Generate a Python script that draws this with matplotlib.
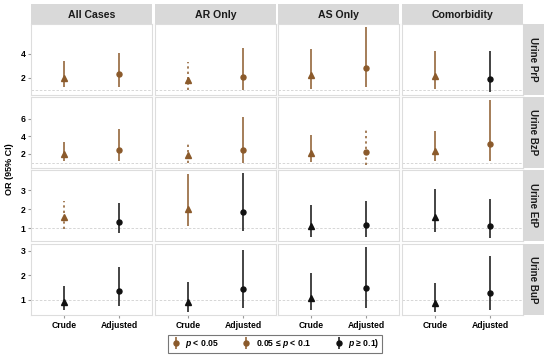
import matplotlib.pyplot as plt
from matplotlib.lines import Line2D

plt.rcParams['font.family'] = ['Liberation Sans', 'DejaVu Sans']
plt.rcParams['font.weight'] = 'bold'
plt.rcParams['mathtext.fontset'] = 'custom'
plt.rcParams['mathtext.it'] = 'Liberation Sans:italic:bold'

groups = ["All Cases", "AR Only", "AS Only", "Comorbidity"]
metabolites = ["Urine PrP", "Urine BzP", "Urine EtP", "Urine BuP"]
models = ["Crude", "Adjusted"]

# order in each list: [AC crude, AC adj, AR crude, AR adj, AS crude, AS adj, CM crude, CM adj]
prp_or = [2.0, 2.3, 1.8, 2.1, 2.25, 2.8, 2.17, 1.9]
prp_lo = [1.25, 1.28, 1.0, 0.97, 1.1, 1.28, 1.1, 0.86]
prp_hi = [3.4, 4.05, 3.3, 4.45, 4.4, 6.2, 4.25, 4.2]
prp_sig = [0, 0, 1, 0, 0, 0, 0, 2]

bzp_or = [2.0, 2.47, 1.83, 2.47, 2.1, 2.2, 2.36, 3.1]
bzp_lo = [1.15, 1.2, 0.97, 0.97, 1.04, 0.77, 1.15, 1.15]
bzp_hi = [3.4, 4.85, 3.4, 6.2, 4.1, 4.7, 4.6, 8.1]
bzp_sig = [0, 0, 1, 0, 0, 1, 0, 0]

etp_or = [1.57, 1.32, 2.04, 1.84, 1.14, 1.18, 1.62, 1.12]
etp_lo = [0.95, 0.73, 1.12, 0.86, 0.55, 0.55, 0.82, 0.5]
etp_hi = [2.46, 2.34, 3.86, 3.9, 2.21, 2.46, 3.05, 2.55]
etp_sig = [1, 2, 0, 2, 2, 2, 2, 2]

bup_or = [0.92, 1.34, 0.92, 1.43, 1.06, 1.48, 0.87, 1.27]
bup_lo = [0.56, 0.75, 0.5, 0.66, 0.56, 0.67, 0.5, 0.56]
bup_hi = [1.55, 2.35, 1.7, 3.03, 2.08, 3.14, 1.67, 2.78]
bup_sig = [2, 2, 2, 2, 2, 2, 2, 2]

row_data = [
    (prp_or, prp_lo, prp_hi, prp_sig),
    (bzp_or, bzp_lo, bzp_hi, bzp_sig),
    (etp_or, etp_lo, etp_hi, etp_sig),
    (bup_or, bup_lo, bup_hi, bup_sig),
]
row_ticks = [[2, 4], [2, 4, 6], [1, 2, 3], [1, 2, 3]]

sig_labels = ["$p$ < 0.05", "0.05 \u2264 $p$ < 0.1", "$p$ \u2265 0.1)"]
sig_colors = ["#8B5A2B", "#8B5A2B", "#111111"]
sig_ls = ["-", (0, (1.5, 2)), "-"]
markers = ["^", "o"]

W, H = 550, 356
fig = plt.figure(figsize=(W / 100, H / 100), dpi=100)

col_x = [31, 155, 278, 402]
row_y = [24, 97, 170, 244]
pw, ph = 121, 71


def frac(x, y, w, h):
    return [x / W, 1 - (y + h) / H, w / W, h / H]


for r in range(4):
    est, lo, hi, sig = row_data[r]
    for c in range(4):
        ax = fig.add_axes(frac(col_x[c], row_y[r], pw, ph))
        ax.set_facecolor("white")
        ax.axhline(1, color="#d0d0d0", lw=0.6, ls=(0, (3, 2)), zorder=0)
        for m in range(2):
            i = c * 2 + m
            s = sig[i]
            ax.vlines(m + 1, lo[i], hi[i], color=sig_colors[s], lw=1.1, linestyles=sig_ls[s])
            ax.plot(m + 1, est[i], marker=markers[m], color=sig_colors[s],
                    ms=4 if m == 0 else 3.6, ls="none")
        ax.set_xlim(0.4, 2.6)
        all_lo = min(lo)
        all_hi = max(hi)
        pad = (all_hi - all_lo) * 0.05
        ax.set_ylim(all_lo - pad, all_hi + pad)
        ax.set_yticks(row_ticks[r])
        ax.set_xticks([1, 2])
        for sp in ax.spines.values():
            sp.set_color("#dddddd")
            sp.set_linewidth(0.8)
        ax.tick_params(length=2, color="#999999", labelsize=6.2, pad=2)
        if c == 0:
            ax.set_yticklabels([str(t) for t in row_ticks[r]], fontweight="bold")
        else:
            ax.set_yticklabels([])
            ax.tick_params(axis="y", length=0)
        if r == 3:
            ax.set_xticklabels(models, fontweight="bold")
        else:
            ax.set_xticklabels([])
            ax.tick_params(axis="x", length=0)

# column strips
for c in range(4):
    sax = fig.add_axes(frac(col_x[c], 4, pw, 20))
    sax.set_facecolor("#d9d9d9")
    sax.set_xticks([])
    sax.set_yticks([])
    for sp in sax.spines.values():
        sp.set_visible(False)
    sax.text(0.5, 0.45, groups[c], ha="center", va="center", fontsize=7.6,
             fontweight="bold", color="#1a1a1a", transform=sax.transAxes)

# row strips
for r in range(4):
    sax = fig.add_axes(frac(523, row_y[r], 21, ph))
    sax.set_facecolor("#d9d9d9")
    sax.set_xticks([])
    sax.set_yticks([])
    for sp in sax.spines.values():
        sp.set_visible(False)
    sax.text(0.5, 0.5, metabolites[r], ha="center", va="center", fontsize=7,
             fontweight="bold", color="#1a1a1a", rotation=-90, transform=sax.transAxes)

fig.text(10 / W, 1 - 169 / H, "OR (95% CI)", rotation=90, ha="center", va="center",
         fontsize=6.5, fontweight="bold")

handles = []
for s in range(3):
    handles.append((Line2D([], [], marker="|", ms=8, mew=1.1, color=sig_colors[s], ls="none"),
                    Line2D([], [], marker="o", ms=3.6, color=sig_colors[s], ls="none")))
leg = fig.legend(handles, sig_labels, loc="center", bbox_to_anchor=(275 / W, 1 - 344 / H),
                 ncol=3, frameon=True, fontsize=6.2, handlelength=1.2, handletextpad=0.5,
                 columnspacing=2.6, borderpad=0.25, fancybox=False)
leg.get_frame().set_edgecolor("#555555")
leg.get_frame().set_linewidth(0.8)
for t in leg.get_texts():
    t.set_fontweight("bold")

fig.savefig("out.png", dpi=100)
